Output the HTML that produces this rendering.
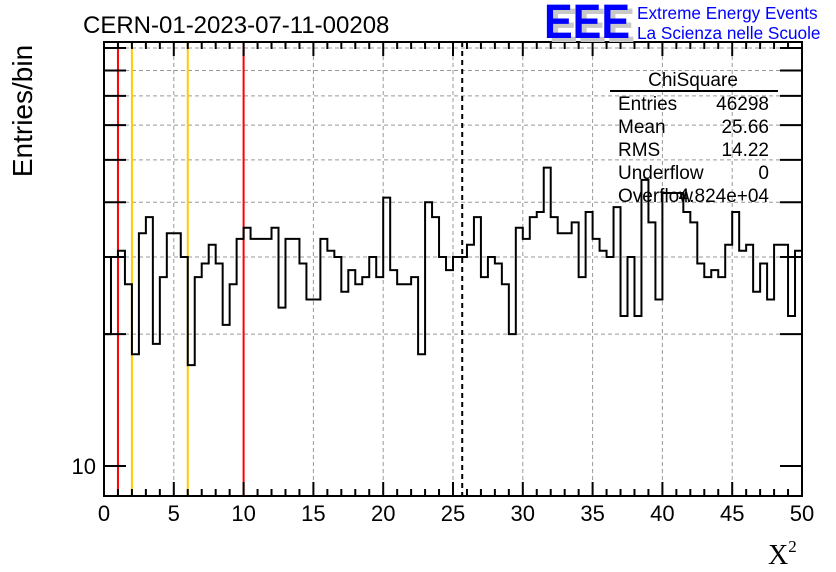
<!DOCTYPE html>
<html><head><meta charset="utf-8"><style>
body{margin:0;background:#fff;}
svg{display:block;font-family:"Liberation Sans",sans-serif;}
</style></head><body>
<svg id="chart" width="836" height="572" viewBox="0 0 836 572" xmlns="http://www.w3.org/2000/svg">
<rect width="836" height="572" fill="#fff"/>
<g id="grid"></g>
<g id="vlines"></g>
<path id="hist" fill="none" stroke="#000" stroke-width="2"/>
<rect x="104" y="42" width="698" height="454" fill="none" stroke="#000" stroke-width="2"/>
<g id="axes"></g>
<text x="83" y="33" font-size="24">CERN-01-2023-07-11-00208</text>
<g>
<text x="549" y="42" font-size="48" font-weight="bold" fill="#c8c8c8" textLength="86" lengthAdjust="spacingAndGlyphs">EEE</text>
<text x="544" y="38" font-size="48" font-weight="bold" fill="#0000ff" textLength="86" lengthAdjust="spacingAndGlyphs">EEE</text>
<text x="637" y="19" font-size="17.2" fill="#0000ff">Extreme Energy Events</text>
<text x="637" y="39" font-size="17.2" fill="#0000ff">La Scienza nelle Scuole</text>
</g>
<g font-size="19">
<text x="693" y="86" text-anchor="middle">ChiSquare</text>
<line x1="610" y1="91" x2="778" y2="91" stroke="#000" stroke-width="2"/>
<text x="618" y="110">Entries</text><text x="769" y="110" text-anchor="end">46298</text>
<text x="618" y="133">Mean</text><text x="769" y="133" text-anchor="end">25.66</text>
<text x="618" y="156">RMS</text><text x="769" y="156" text-anchor="end">14.22</text>
<text x="618" y="179">Underflow</text><text x="769" y="179" text-anchor="end">0</text>
<text x="618" y="202">Overflow</text><text x="769" y="202" text-anchor="end">4.824e+04</text>
</g>
<text transform="translate(32,111) rotate(-90)" text-anchor="middle" font-size="28">Entries/bin</text>
<text x="768" y="564" font-size="28" font-family="Liberation Serif,serif">X<tspan font-size="17" dy="-12">2</tspan></text>
</svg>
<script>
const counts=[20,30,31,26,18,34,37,19,27,34,34,30,17,27,29,32,29,21,26,33,35,33,33,33,35,23,33,33,29,24,24,33,31,30,25,28,26,27,30,27,41,28,26,26,27,18,40,37,30,28,30,30,32,37,27,30,29,26,20,35,33,37,38,48,37,34,34,36,27,38,33,31,30,39,22,30,22,45,36,24,42,42,42,38,36,29,27,28,27,32,38,31,32,25,29,24,32,32,22,31];
const binWidth=[0.5];
const xTickLabels=["0","5","10","15","20","25","30","35","40","45","50"];
const yTickValues=[10,20,30,40,50,60,70,80,90];
const refLinesRed=[1,10];
const refLinesOrange=[2,6];
const meanValue=[25.66];
const NS="http://www.w3.org/2000/svg";
const X0=104,X1=802,Y0=496,Y1=42,XMIN=0,XMAX=50;
function sx(v){return X0+(v-XMIN)/(XMAX-XMIN)*(X1-X0);}
function sy(v){return 466-(Math.log10(v)-1)*438;}
function mk(tag,attrs,parent){const e=document.createElementNS(NS,tag);for(const k in attrs)e.setAttribute(k,attrs[k]);parent.appendChild(e);return e;}
const grid=document.getElementById('grid'),axes=document.getElementById('axes'),vl=document.getElementById('vlines');
for(let i=0;i<xTickLabels.length;i++){
  const v=+xTickLabels[i],x=sx(v);
  if(i>0&&i<xTickLabels.length-1){const g=mk('line',{x1:x,y1:Y1,x2:x,y2:Y0,stroke:'#999','stroke-dasharray':'4,3','stroke-width':1},grid);
  
  }
  const t=mk('text',{x:x,y:521,'font-size':22,'text-anchor':'middle'},axes);t.textContent=xTickLabels[i];
  
  
}
for(let v=XMIN;v<=XMAX;v+=1){const x=sx(v),L=(v%5===0)?14:7;
  mk('line',{x1:x,y1:Y0,x2:x,y2:Y0-L,stroke:'#000','stroke-width':2},axes);
  mk('line',{x1:x,y1:Y1,x2:x,y2:Y1+L,stroke:'#000','stroke-width':2},axes);}
yTickValues.forEach(v=>{const y=sy(v);
  if(v!==10){const g=mk('line',{x1:X0,y1:y,x2:X1,y2:y,stroke:'#999','stroke-dasharray':'4,3','stroke-width':1},grid);
  
  }
  mk('line',{x1:X0,y1:y,x2:X0+22,y2:y,stroke:'#000','stroke-width':2},axes);
  mk('line',{x1:X1,y1:y,x2:X1-22,y2:y,stroke:'#000','stroke-width':2},axes);});
const yl=mk('text',{x:96,y:sy(10)+8,'font-size':22,'text-anchor':'end'},axes);yl.textContent='10';


function ref(v,color,dash,name){const x=sx(v);const l=mk('line',{x1:x,y1:Y1,x2:x,y2:Y0,stroke:color,'stroke-width':2},vl);if(dash)l.setAttribute('stroke-dasharray',dash);
  
  }
refLinesRed.forEach(v=>ref(v,'#ff0000',null,'red-cut-line'));
refLinesOrange.forEach(v=>ref(v,'#ffcc00',null,'orange-cut-line'));
ref(meanValue[0],'#000','5,4','mean-line');
let d='';
counts.forEach((c,i)=>{const xa=sx(i*binWidth[0]),xb=sx((i+1)*binWidth[0]),y=sy(c);
  d+=(i===0?'M':'L')+xa+','+y+' L'+xb+','+y+' ';});
document.getElementById('hist').setAttribute('d',d);
</script>
</body></html>
